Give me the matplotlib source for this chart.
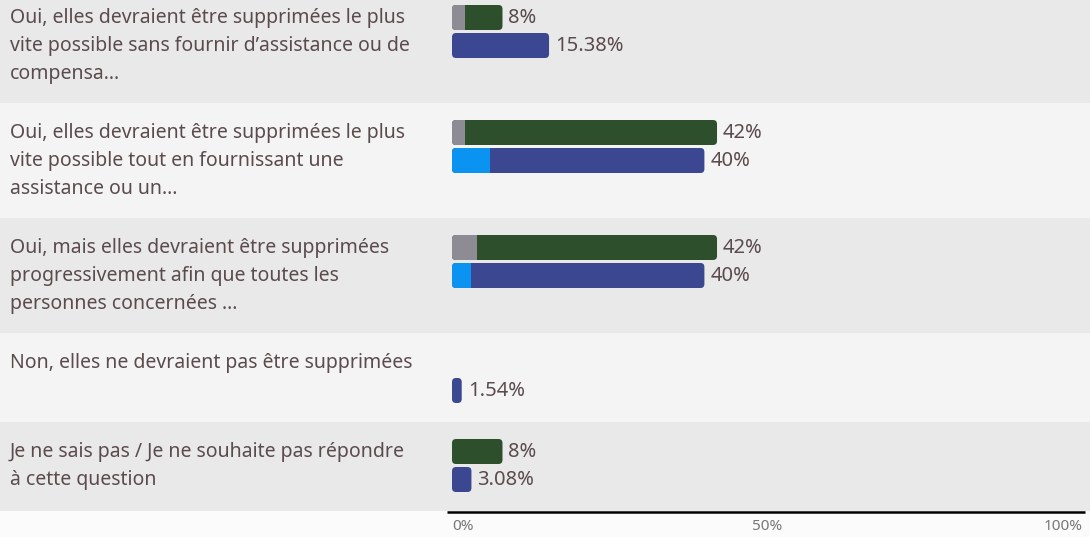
import matplotlib; matplotlib.use('Agg')
import matplotlib.pyplot as plt
from matplotlib.patches import FancyBboxPatch, Rectangle

labels = ["Oui, elles devraient être supprimées le plus\nvite possible sans fournir d’assistance ou de\ncompensa...",
          "Oui, elles devraient être supprimées le plus\nvite possible tout en fournissant une\nassistance ou un...",
          "Oui, mais elles devraient être supprimées\nprogressivement afin que toutes les\npersonnes concernées ...",
          "Non, elles ne devraient pas être supprimées",
          "Je ne sais pas / Je ne souhaite pas répondre\nà cette question"]
green = [8, 42, 42, 0, 8]
green_part = [2, 2, 4, 0, 0]          # grey segment at start of green bar
blue = [15.38, 40, 40, 1.54, 3.08]
blue_part = [0, 6, 3, 0, 0]           # light blue segment at start of blue bar
green_txt = ["8%", "42%", "42%", "", "8%"]
blue_txt = ["15.38%", "40%", "40%", "1.54%", "3.08%"]
ticks = [0, 50, 100]
tick_txt = ["0%", "50%", "100%"]

W, H = 1090, 537
X0, PX = 452, 6.31   # pixel of 0%, pixels per percent
C_GREEN, C_GREY, C_BLUE, C_LBLUE = '#2e4f2c', '#8d8c94', '#3b4790', '#0b93f2'
C_TXT = '#5b4b4d'
plt.rcParams['font.family'] = ['Noto Sans', 'DejaVu Sans']

fig = plt.figure(figsize=(W / 100, H / 100), dpi=100)
ax = fig.add_axes([0, 0, 1, 1])
ax.set_xlim(-X0 / PX, (W - X0) / PX)
ax.set_ylim(H, 0)
ax.axis('off')
fig.patch.set_facecolor('#fbfbfb')

def bar(x_end, part, y, h, col, pcol):
    if x_end <= 0: return
    r = 4 / PX
    p = FancyBboxPatch((0, y), x_end, h, boxstyle=f"round,pad=0,rounding_size={r}",
                       mutation_aspect=PX, fc=col, ec='none', zorder=3)
    ax.add_patch(p)
    if part > 0:
        s = Rectangle((0, y), part, h, fc=pcol, ec='none', zorder=4)
        ax.add_patch(s); s.set_clip_path(p)

row_h = [115 if l.count('\n') == 2 else 89 for l in labels]
top = -12
for i, lab in enumerate(labels):
    ax.axhspan(top, top + row_h[i], color='#e9e9e9' if i % 2 == 0 else '#f4f4f4', zorder=0, lw=0)
    for k, line in enumerate(lab.split('\n')):
        ax.text(10 / PX - X0 / PX, top + 30 + 28 * k, line, fontsize=14, color=C_TXT,
                va='center', ha='left', zorder=5)
    bar(green[i], green_part[i], top + 17, 25, C_GREEN, C_GREY)
    bar(blue[i], blue_part[i], top + 45, 25, C_BLUE, C_LBLUE)
    if green_txt[i]:
        ax.text(green[i] + 6 / PX, top + 30, green_txt[i], fontsize=14.5, color=C_TXT, va='center', zorder=5)
    ax.text(blue[i] + 6 / PX, top + 58, blue_txt[i], fontsize=14.5, color=C_TXT, va='center', zorder=5)
    top += row_h[i]

ax.plot([-5 / PX, 100 + 2 / PX], [top + 1, top + 1], color='black', lw=1.8, solid_capstyle='butt', zorder=5)
for t, s in zip(ticks, tick_txt):
    ha = 'left' if t == 0 else ('right' if t == 100 else 'center')
    ax.text(t, top + 16, s, fontsize=11, color='#777777', ha=ha, va='center')

fig.savefig('out.png', dpi=100)
